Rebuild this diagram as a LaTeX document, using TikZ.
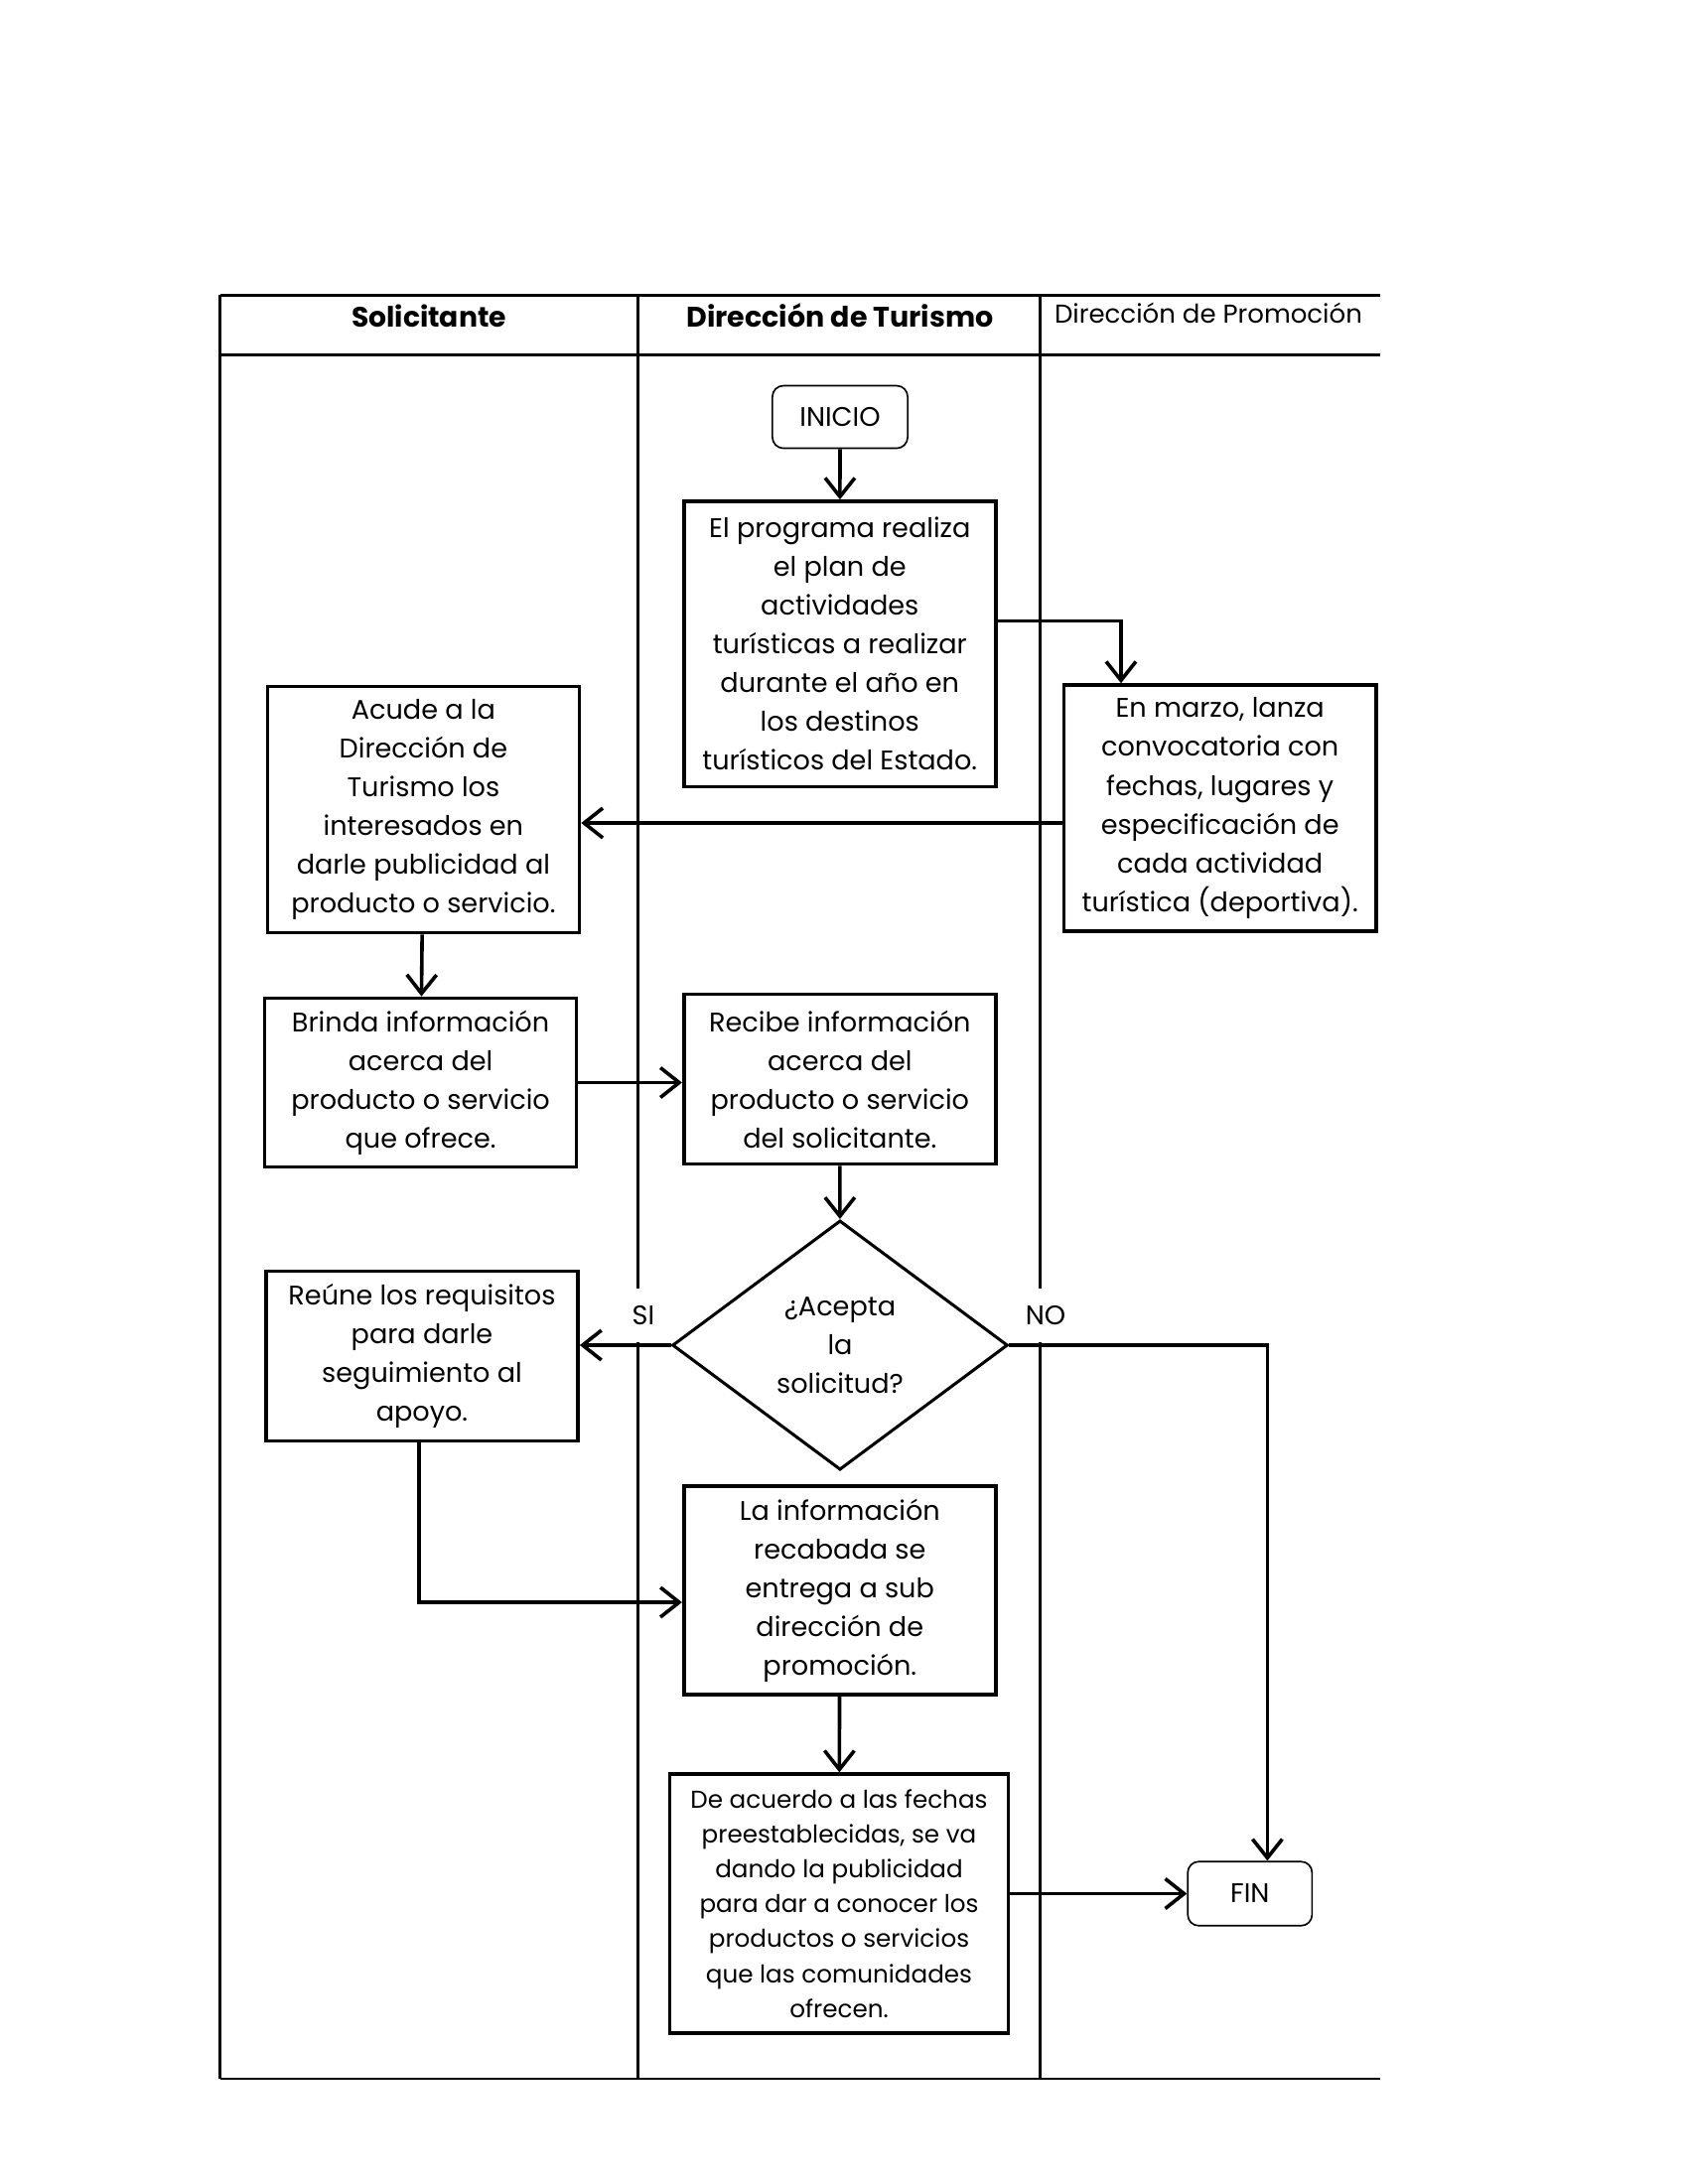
\documentclass[tikz,border=0pt]{standalone}
\usepackage{fontspec}
\setmainfont{Poppins}
\usetikzlibrary{positioning,shapes.geometric,arrows.meta}

\begin{document}
\begin{tikzpicture}[x=0.127mm, y=-0.127mm,
		caja/.style={draw, line width=1.3pt, align=center, inner sep=0pt, font=\fontsize{9.8}{14.1}\selectfont},
		inicio/.style={draw, rounded corners=4pt, line width=0.6pt, align=center, font=\fontsize{9.8}{14.1}\selectfont},
		rombo/.style={draw, diamond, line width=1.1pt, align=center, inner sep=0pt, font=\fontsize{9.8}{14.1}\selectfont},
		carril/.style={line width=0.9pt},
		flecha/.style={line width=1.3pt, -{Straight Barb[length=2.4mm, width=3.8mm, line width=1.3pt]}},
		rama/.style={fill=white, inner sep=2.2mm, font=\fontsize{9.8}{12}\selectfont}]
		\useasboundingbox (0, 0) rectangle (1700, 2200);

		% carriles
		\draw[carril, line width=1.2pt] (221.6, 297.4) -- (1390, 297.4);
		\draw[carril] (221.6, 357.7) -- (1390, 357.7);
		\draw[carril] (221.6, 2094) -- (1390, 2094);
		\draw[carril] (221.6, 297.4) -- (221.6, 2094);
		\draw[carril] (642.4, 297.4) -- (642.4, 2094);
		\draw[carril] (1047.7, 297.4) -- (1047.7, 2094);

		\node[font=\fontsize{10.2}{14}\selectfont\bfseries] (solicitante) at (432, 318) {Solicitante};
		\node[font=\fontsize{10.3}{14}\selectfont\bfseries] (turismo) at (846, 318) {Dirección de Turismo};
		\node[font=\fontsize{9.4}{14}\selectfont] (promocion) at (1217, 315) {Dirección de Promoción};

		% nodos
		\node[inicio, minimum width=17.3mm, minimum height=8mm] (inicio) at (846, 420) {INICIO};
		\node[caja, minimum width=39.9mm, minimum height=36.5mm] (plan) at (845.8, 648.7)
			{El programa realiza\\el plan de\\actividades\\turísticas a realizar\\durante el año en\\los destinos\\turísticos del Estado.};
		\node[caja, minimum width=39.9mm, minimum height=31.5mm] (convocatoria) at (1228.7, 814)
			{En marzo, lanza\\convocatoria con\\fechas, lugares y\\especificación de\\cada actividad\\turística (deportiva).};
		\node[caja, minimum width=39.9mm, minimum height=31.5mm] (acude) at (426.4, 815.6)
			{Acude a la\\Dirección de\\Turismo los\\interesados en\\darle publicidad al\\producto o servicio.};
		\node[caja, minimum width=39.9mm, minimum height=21.6mm] (brinda) at (423.6, 1090.5)
			{Brinda información\\acerca del\\producto o servicio\\que ofrece.};
		\node[caja, minimum width=39.9mm, minimum height=21.7mm] (recibe) at (845.8, 1087)
			{Recibe información\\acerca del\\producto o servicio\\del solicitante.};
		\node[rombo, minimum width=42.9mm, minimum height=31.9mm] (acepta) at (846, 1355)
			{¿Acepta\\la\\solicitud?};
		\node[caja, minimum width=39.9mm, minimum height=21.7mm] (reune) at (425, 1366)
			{Reúne los requisitos\\para darle\\seguimiento al\\apoyo.};
		\node[caja, minimum width=39.9mm, minimum height=26.7mm] (entrega) at (845.8, 1602)
			{La información\\recabada se\\entrega a sub\\dirección de\\promoción.};
		\node[caja, minimum width=43.3mm, minimum height=33.1mm, font=\fontsize{8.9}{12.7}\selectfont] (publicidad) at (845, 1917.4)
			{De acuerdo a las fechas\\preestablecidas, se va\\dando la publicidad\\para dar a conocer los\\productos o servicios\\que las comunidades\\ofrecen.};
		\node[inicio, minimum width=15.9mm, minimum height=8.2mm] (fin) at (1258.8, 1907.5) {FIN};

		\node[rama] (si) at (648, 1325) {SI};
		\node[rama] (no) at (1053, 1325) {NO};

		\coordinate (codo) at (1129, 625.6);
		\coordinate (aviso) at (1071.6, 829);
		\coordinate (bajada) at (1276.4, 1355);
		\coordinate (vuelta) at (422, 1614);

		% conectores
		\draw[flecha] (inicio) -- (plan);
		\draw[flecha] (plan.east |- codo) -- (codo) -- (convocatoria.north -| codo);
		\draw[flecha] (aviso) -- (acude.east |- aviso);
		\draw[flecha] (acude) -- (brinda);
		\draw[flecha] (brinda.east) -- (recibe.west |- brinda.east);
		\draw[flecha] (recibe) -- (acepta);
		\draw[flecha] (acepta.west) -- (reune.east |- acepta.west);
		\draw[flecha] (acepta.east) -- (bajada) -- (fin.north -| bajada);
		\draw[flecha] (reune.south -| vuelta) -- (vuelta) -- (entrega.west |- vuelta);
		\draw[flecha] (entrega) -- (publicidad);
		\draw[flecha] (publicidad.east |- fin) -- (fin.west);
	\end{tikzpicture}
\end{document}
